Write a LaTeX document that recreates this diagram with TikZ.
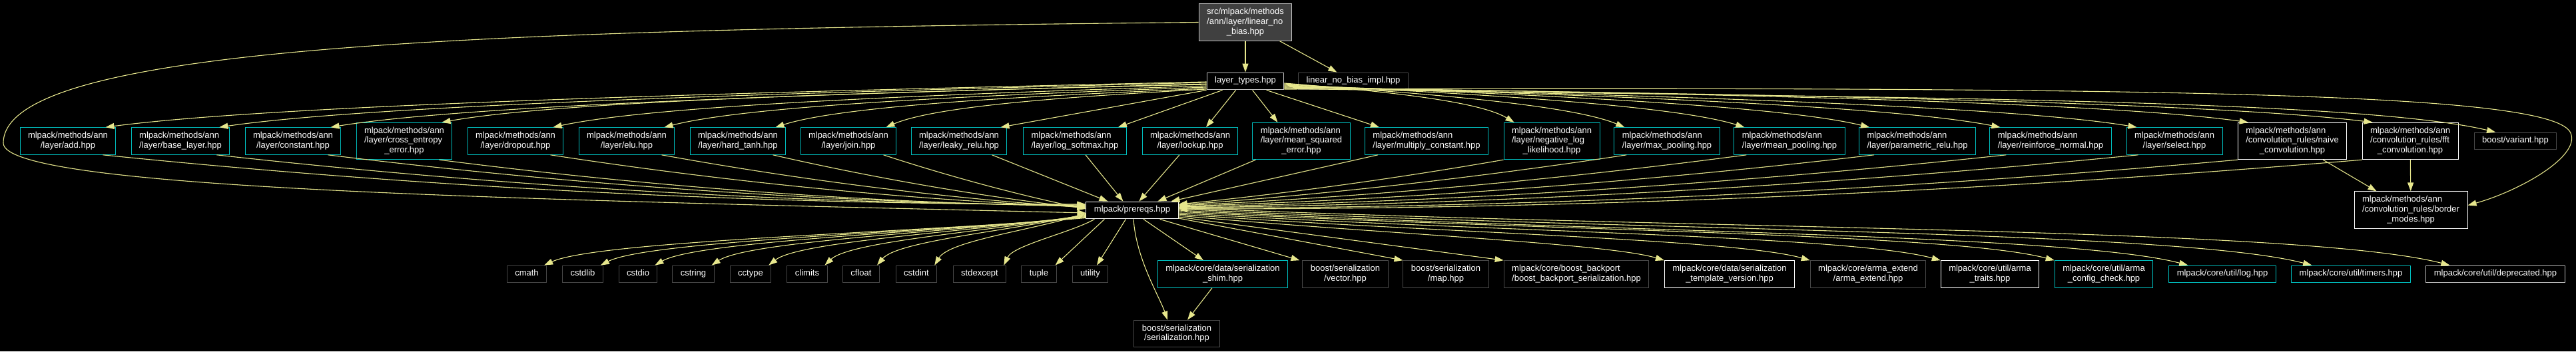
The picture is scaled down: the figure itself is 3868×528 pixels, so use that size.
\documentclass[tikz,border=0pt]{standalone}
\usepackage{fontspec}
\usetikzlibrary{arrows.meta,calc}
\newfontfamily\dfont{Liberation Sans}

\definecolor{edgecol}{RGB}{230,230,140}
\definecolor{docbox}{RGB}{0,190,190}
\definecolor{extbox}{RGB}{72,72,72}
\definecolor{rootfill}{RGB}{64,64,64}
\definecolor{lgray}{RGB}{191,191,191}

% one line / several lines (left, last one centred)
\newcommand{\one}[1]{\begin{tabular}{@{}c@{}}#1\end{tabular}}
\newcommand{\lab}[2]{\begin{tabular}{@{}l@{}}#1\\\multicolumn{1}{@{}c@{}}{#2}\end{tabular}}

\tikzset{
  file/.style={draw=white, fill=black, text=white, line width=1pt,
    font=\dfont\fontsize{13}{14.7}\selectfont, inner xsep=12pt, inner ysep=5.6pt},
  docfile/.style={file, draw=docbox},
  extfile/.style={file, draw=extbox},
  dep/.style={draw=edgecol, line width=1.1pt, -{Triangle[length=13pt,width=9pt]}},
}

\begin{document}
\begin{tikzpicture}[x=1pt,y=1pt]
    \useasboundingbox (0,0) rectangle (3868,-528);
    \fill[black] (0,0) rectangle (3868,-528);

    % Top
    \node[file, fill=rootfill, draw=lgray] (root) at (1870,-33.5) {\lab{src/mlpack/methods\\/ann/layer/linear\_no}{\_bias.hpp}};
    \node[file, draw=lgray] (types) at (1870,-122) {\one{layer\_types.hpp}};
    \node[extfile] (impl) at (2032,-122) {\one{linear\_no\_bias\_impl.hpp}};

    % Layers
    \node[docfile] (add) at (102,-212) {\lab{mlpack/methods/ann}{/layer/add.hpp}};
    \node[docfile] (baselayer) at (271,-212) {\lab{mlpack/methods/ann}{/layer/base\_layer.hpp}};
    \node[docfile] (constant) at (440,-212) {\lab{mlpack/methods/ann}{/layer/constant.hpp}};
    \node[docfile] (crossent) at (607,-212) {\lab{mlpack/methods/ann\\/layer/cross\_entropy}{\_error.hpp}};
    \node[docfile] (dropout) at (774,-212) {\lab{mlpack/methods/ann}{/layer/dropout.hpp}};
    \node[docfile] (elu) at (941,-212) {\lab{mlpack/methods/ann}{/layer/elu.hpp}};
    \node[docfile] (hardtanh) at (1108,-212) {\lab{mlpack/methods/ann}{/layer/hard\_tanh.hpp}};
    \node[docfile] (join) at (1274,-212) {\lab{mlpack/methods/ann}{/layer/join.hpp}};
    \node[docfile] (leaky) at (1440,-212) {\lab{mlpack/methods/ann}{/layer/leaky\_relu.hpp}};
    \node[docfile] (logsoft) at (1614,-212) {\lab{mlpack/methods/ann}{/layer/log\_softmax.hpp}};
    \node[docfile] (lookup) at (1787,-212) {\lab{mlpack/methods/ann}{/layer/lookup.hpp}};
    \node[docfile] (mse) at (1954,-212) {\lab{mlpack/methods/ann\\/layer/mean\_squared}{\_error.hpp}};
    \node[docfile] (mulconst) at (2142,-212) {\lab{mlpack/methods/ann}{/layer/multiply\_constant.hpp}};
    \node[docfile] (negll) at (2330,-212) {\lab{mlpack/methods/ann\\/layer/negative\_log}{\_likelihood.hpp}};
    \node[docfile] (maxpool) at (2503,-212) {\lab{mlpack/methods/ann}{/layer/max\_pooling.hpp}};
    \node[docfile] (meanpool) at (2687,-212) {\lab{mlpack/methods/ann}{/layer/mean\_pooling.hpp}};
    \node[docfile] (prelu) at (2879,-212) {\lab{mlpack/methods/ann}{/layer/parametric\_relu.hpp}};
    \node[docfile] (reinf) at (3079,-212) {\lab{mlpack/methods/ann}{/layer/reinforce\_normal.hpp}};
    \node[docfile] (select) at (3265,-212) {\lab{mlpack/methods/ann}{/layer/select.hpp}};
    \node[file] (naive) at (3442,-212) {\lab{mlpack/methods/ann\\/convolution\_rules/naive}{\_convolution.hpp}};
    \node[file] (fft) at (3619,-212) {\lab{mlpack/methods/ann\\/convolution\_rules/fft}{\_convolution.hpp}};
    \node[extfile] (variant) at (3777,-212) {\one{boost/variant.hpp}};

    % Middle
    \node[file] (prereqs) at (1700,-316) {\one{mlpack/prereqs.hpp}};
    \node[file] (border) at (3620,-315.5) {\lab{mlpack/methods/ann\\/convolution\_rules/border}{\_modes.hpp}};

    % Headers
    \node[extfile] (cmath) at (791,-412) {\one{cmath}};
    \node[extfile] (cstdlib) at (875,-412) {\one{cstdlib}};
    \node[extfile] (cstdio) at (958,-412) {\one{cstdio}};
    \node[extfile] (cstring) at (1041,-412) {\one{cstring}};
    \node[extfile] (cctype) at (1127,-412) {\one{cctype}};
    \node[extfile] (climits) at (1212,-412) {\one{climits}};
    \node[extfile] (cfloat) at (1293,-412) {\one{cfloat}};
    \node[extfile] (cstdint) at (1376,-412) {\one{cstdint}};
    \node[extfile] (stdexcept) at (1471,-412) {\one{stdexcept}};
    \node[extfile] (tuple) at (1560,-412) {\one{tuple}};
    \node[extfile] (utility) at (1637,-412) {\one{utility}};
    \node[docfile] (shim) at (1836,-412) {\lab{mlpack/core/data/serialization}{\_shim.hpp}};
    \node[extfile] (vector) at (2020,-412) {\lab{boost/serialization}{/vector.hpp}};
    \node[extfile] (map) at (2171,-412) {\lab{boost/serialization}{/map.hpp}};
    \node[extfile] (backport) at (2367,-412) {\lab{mlpack/core/boost\_backport}{/boost\_backport\_serialization.hpp}};
    \node[file] (tplver) at (2597,-412) {\lab{mlpack/core/data/serialization}{\_template\_version.hpp}};
    \node[extfile] (armaext) at (2805,-412) {\lab{mlpack/core/arma\_extend}{/arma\_extend.hpp}};
    \node[file] (armatraits) at (2988,-412) {\lab{mlpack/core/util/arma}{\_traits.hpp}};
    \node[docfile] (armacfg) at (3159,-412) {\lab{mlpack/core/util/arma}{\_config\_check.hpp}};
    \node[docfile] (log) at (3337,-412) {\one{mlpack/core/util/log.hpp}};
    \node[docfile] (timers) at (3530,-412) {\one{mlpack/core/util/timers.hpp}};
    \node[file, draw=lgray] (deprecated) at (3747,-412) {\one{mlpack/core/util/deprecated.hpp}};
    \node[extfile] (serial) at (1767,-501.5) {\lab{boost/serialization}{/serialization.hpp}};

    % From the top file
    \draw[dep] (root) -- (types);
    \draw[dep] (root) -- (impl);
    \draw[dep] (root.west) .. controls (700,-45) and (5,-70) .. (5,-215)
        .. controls (5,-285) and (800,-300) .. ([yshift=-4pt]prereqs.west);

    % From layer_types.hpp
    \foreach \n/\dy in {add/-1,baselayer/-2,constant/-4,crossent/-5,dropout/-7,elu/-9,hardtanh/-11,join/-12}{
        \coordinate (s) at ([yshift=\dy]types.west);
        \coordinate (e) at ([xshift=-16pt]\n.north east);
        \draw[dep] (s) .. controls ($(s)!.39!(e)+(0,12)$) and ($(e)!.16!(s)+(0,24)$) .. (e);
    }
    \draw[dep] (types.south west) -- ([xshift=-10pt]leaky.north east);
    \draw[dep] ([xshift=24pt]types.south west) -- ([xshift=-13pt]logsoft.north east);
    \draw[dep] ([xshift=44pt]types.south west) -- ([xshift=24pt]lookup.north);
    \draw[dep] ([xshift=69pt]types.south west) -- ([xshift=38pt]mse.north west);
    \draw[dep] ([xshift=90pt]types.south west) -- ([xshift=22pt]mulconst.north west);
    \foreach \n/\dy in {negll/-3,maxpool/-4,meanpool/-5,prelu/-6,reinf/-7,select/-8,naive/-9,fft/-10}{
        \coordinate (s) at ([yshift=\dy]types.east);
        \coordinate (e) at ([xshift=16pt]\n.north west);
        \draw[dep] (s) .. controls ($(s)!.39!(e)+(0,12)$) and ($(e)!.16!(s)+(0,24)$) .. (e);
    }
    \coordinate (s) at ([yshift=-11pt]types.east);
    \draw[dep] (s) .. controls ($(s)!.39!(variant.north)+(0,12)$) and ($([xshift=-30pt]variant.north)+(-230,55)$) .. ([xshift=-30pt]variant.north);
    \draw[dep] ([yshift=-12pt]types.east) .. controls (3300,-130) and (3835,-140) .. (3860,-200)
        .. controls (3875,-236) and (3780,-288) .. ([yshift=7pt]border.east);

    % Layers to prereqs
    \foreach \n/\dy/\k in {add/9/25,baselayer/8/23,constant/7/21,crossent/6/18,dropout/5/15,elu/4/12,hardtanh/3/9,join/2/6}{
        \coordinate (s) at ([xshift=-20pt]\n.south east);
        \coordinate (e) at ([yshift=\dy]prereqs.west);
        \draw[dep] (s) .. controls ($(s)!.33!(e)+(0,-\k)$) and ($(e)!.33!(s)+(0,-\k)$) .. (e);
    }
    \draw[dep] ([xshift=-23pt]leaky.south east) -- ([xshift=33pt]prereqs.north west);
    \draw[dep] ([xshift=16pt]logsoft.south) -- ([xshift=56pt]prereqs.north west);
    \draw[dep] ([xshift=-16pt]lookup.south) -- ([xshift=80pt]prereqs.north west);
    \draw[dep] ([xshift=5pt]mse.south west) -- ([xshift=108pt]prereqs.north west);
    \draw[dep] ([xshift=20pt]mulconst.south west) -- ([xshift=128pt]prereqs.north west);
    \foreach \n/\dx/\dy/\k in {negll/0/9/6,maxpool/19/8/9,meanpool/19/7/12,prelu/23/6/15,reinf/25/5/18,select/18/4/21,naive/0/3/23,fft/0/2/25}{
        \coordinate (s) at ([xshift=\dx]\n.south west);
        \coordinate (e) at ([yshift=\dy]prereqs.east);
        \draw[dep] (s) .. controls ($(s)!.33!(e)+(0,-\k)$) and ($(e)!.33!(s)+(0,-\k)$) .. (e);
    }

    % Convolution rules
    \draw[dep] ([xshift=-36pt]naive.south east) -- ([xshift=34pt]border.north west);
    \draw[dep] (fft) -- (border);

    % From prereqs.hpp
    \foreach \n/\dy in {cmath/2,cstdlib/3,cstdio/4,cstring/5,cctype/6,climits/7,cfloat/8,cstdint/9}{
        \coordinate (s) at ([yshift=\dy]prereqs.south west);
        \coordinate (e) at ([xshift=-4pt]\n.north east);
        \draw[dep] (s) .. controls ($(s)!.31!(e)$) and ($(e)!.1!(s)+(0,30)$) .. (e);
    }
    \coordinate (s) at ([xshift=13pt]prereqs.south west);
    \draw[dep] (s) .. controls +(-35,-20) and +(14,30) .. ([xshift=-4pt]stdexcept.north east);
    \draw[dep] ([xshift=28pt]prereqs.south west) -- ([xshift=-2pt]tuple.north east);
    \draw[dep] ([xshift=60pt]prereqs.south west) -- ([xshift=10pt]utility.north);
    \draw[dep] ([xshift=2pt]prereqs.south) .. controls +(4,-60) and +(-12,35) .. ([xshift=-14pt]serial.north);
    \draw[dep] ([xshift=17pt]prereqs.south) -- ([xshift=-29pt]shim.north);
    \draw[dep] ([xshift=-28pt]prereqs.south east) -- ([xshift=-4pt]vector.north west);
    \draw[dep] ([yshift=-12pt]prereqs.east) -- (map.north west);
    \draw[dep] ([yshift=-10pt]prereqs.east) -- (backport.north west);
    \foreach \n/\dy/\dx/\k in {tplver/-8/0/18,armaext/-6/0/24,armatraits/-4/0/29,armacfg/-2/0/33,log/0/29/38,timers/2/31/43,deprecated/4/36/48}{
        \coordinate (s) at ([yshift=\dy]prereqs.east);
        \coordinate (e) at ([xshift=\dx]\n.north west);
        \draw[dep] (s) .. controls ($(s)!.39!(e)$) and ($(e)!.12!(s)+(0,\k)$) .. (e);
    }
    \draw[dep] (shim) -- (serial);
\end{tikzpicture}
\end{document}
